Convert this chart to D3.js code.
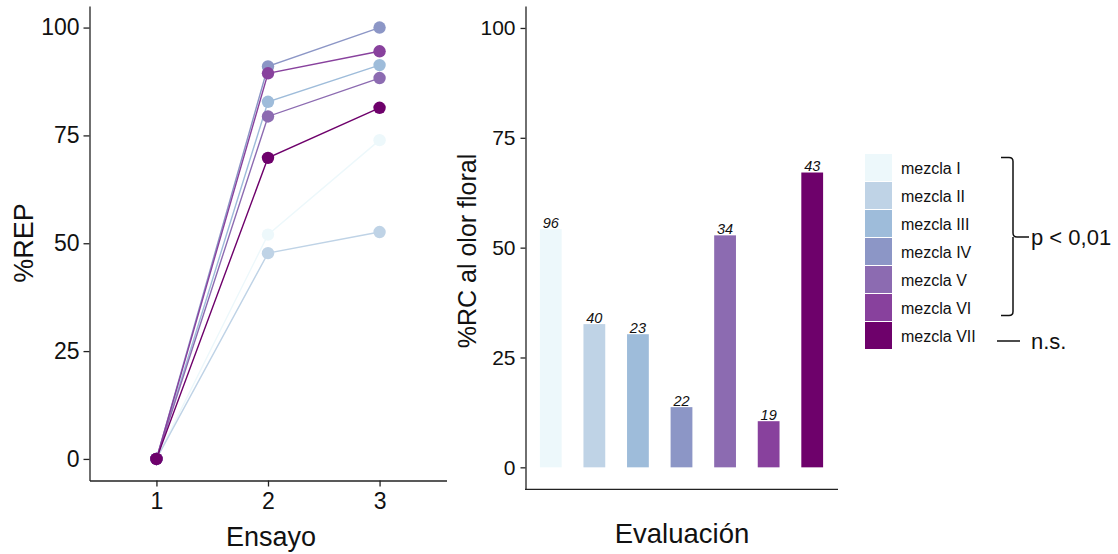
<!DOCTYPE html>
<html>
<head>
<meta charset="utf-8">
<script src="https://cdn.jsdelivr.net/npm/d3@7"></script>
<style>
  body { margin: 0; background: #fff; }
  svg { font-family: "Liberation Sans", Arial, sans-serif; }
  .axis path, .axis line { stroke: #222; stroke-width: 1.3; }
  .axis text { fill: #111; }
</style>
</head>
<body>
<div id="chart"></div>
<script>
// mixtures (shared by both panels)
var mezclas = ['mezcla I', 'mezcla II', 'mezcla III', 'mezcla IV', 'mezcla V', 'mezcla VI', 'mezcla VII'];
var colores = ['#edf8fb', '#bfd3e6', '#9ebcda', '#8c96c6', '#8c6bb1', '#88419d', '#6e016b'];

// left panel: %REP per trial (ensayo 1, 2, 3)
var ensayos = [1, 2, 3];
var rep = [
  [0, 52.0, 73.9],   // mezcla I
  [0, 47.7, 52.6],   // mezcla II
  [0, 82.8, 91.3],   // mezcla III
  [0, 91.0, 100],    // mezcla IV
  [0, 79.4, 88.3],   // mezcla V
  [0, 89.4, 94.5],   // mezcla VI
  [0, 69.8, 81.4]    // mezcla VII
];

// right panel: %RC to floral odour and labels above bars
var rc = [54.2, 32.6, 30.3, 13.7, 52.8, 10.5, 67.1];
var rcLabels = ['96', '40', '23', '22', '34', '19', '43'];

var yTicks = [0, 25, 50, 75, 100];

var svg = d3.select('#chart').append('svg')
        .attr('width', 1118)
        .attr('height', 554);

// ---------- left panel ----------
var x1 = d3.scaleLinear().domain([0.4, 3.6]).range([89.5, 446.5]);
var y1 = d3.scaleLinear().domain([-5, 105]).range([480.5, 6]);

svg.append('g')
        .attr('class', 'axis')
        .attr('transform', 'translate(0,480.5)')
        .call(d3.axisBottom(x1).tickValues(ensayos).tickFormat(d3.format('d')).tickSize(6).tickPadding(6).tickSizeOuter(0))
        .selectAll('text').attr('font-size', 23);

svg.append('g')
        .attr('class', 'axis')
        .attr('transform', 'translate(89.5,0)')
        .call(d3.axisLeft(y1).tickValues(yTicks).tickSize(6).tickPadding(4).tickSizeOuter(0))
        .selectAll('text').attr('font-size', 23);

var line = d3.line()
        .x(function (d, i) { return x1(ensayos[i]); })
        .y(function (d) { return y1(d); });

rep.forEach(function (serie, k) {
        svg.append('path')
                .datum(serie)
                .attr('fill', 'none')
                .attr('stroke', colores[k])
                .attr('stroke-width', 1.4)
                .attr('d', line);
});
rep.forEach(function (serie, k) {
        svg.append('g').selectAll('circle')
                .data(serie)
                .enter().append('circle')
                .attr('cx', function (d, i) { return x1(ensayos[i]); })
                .attr('cy', function (d) { return y1(d); })
                .attr('r', 6.2)
                .attr('fill', colores[k]);
});

svg.append('text')
        .attr('transform', 'translate(33,243) rotate(-90)')
        .attr('text-anchor', 'middle')
        .attr('font-size', 27)
        .attr('fill', '#111')
        .text('%REP');

svg.append('text')
        .attr('x', 271)
        .attr('y', 546)
        .attr('text-anchor', 'middle')
        .attr('font-size', 27)
        .attr('fill', '#111')
        .text('Ensayo');

// ---------- right panel ----------
var x2 = d3.scaleBand().domain(mezclas).range([529, 834]).paddingInner(0.5).paddingOuter(0.25);
var y2 = d3.scaleLinear().domain([-5, 105]).range([489.3, 6]);

svg.append('line')
        .attr('class', 'baseline')
        .attr('x1', 525).attr('x2', 838)
        .attr('y1', 489.3).attr('y2', 489.3)
        .attr('stroke', '#222')
        .attr('stroke-width', 1.3);

svg.append('g')
        .attr('class', 'axis')
        .attr('transform', 'translate(525.5,0)')
        .call(d3.axisLeft(y2).tickValues(yTicks).tickSize(5).tickPadding(5).tickSizeOuter(0))
        .selectAll('text').attr('font-size', 21);

svg.append('g').selectAll('rect')
        .data(rc)
        .enter().append('rect')
        .attr('x', function (d, i) { return x2(mezclas[i]); })
        .attr('y', function (d) { return y2(d); })
        .attr('width', x2.bandwidth())
        .attr('height', function (d) { return y2(0) - y2(d); })
        .attr('fill', function (d, i) { return colores[i]; });

svg.append('g').selectAll('text')
        .data(rc)
        .enter().append('text')
        .attr('x', function (d, i) { return x2(mezclas[i]) + x2.bandwidth() / 2; })
        .attr('y', function (d) { return y2(d) - 1.5; })
        .attr('text-anchor', 'middle')
        .attr('font-size', 14.5)
        .attr('font-style', 'italic')
        .attr('fill', '#111')
        .text(function (d, i) { return rcLabels[i]; });

svg.append('text')
        .attr('transform', 'translate(476,251) rotate(-90)')
        .attr('text-anchor', 'middle')
        .attr('font-size', 25)
        .attr('fill', '#111')
        .text('%RC al olor floral');

svg.append('text')
        .attr('x', 682)
        .attr('y', 543)
        .attr('text-anchor', 'middle')
        .attr('font-size', 27.5)
        .attr('fill', '#111')
        .text('Evaluación');

// ---------- legend ----------
var legend = svg.append('g').attr('transform', 'translate(865,154)');
var row = legend.selectAll('g')
        .data(mezclas)
        .enter().append('g')
        .attr('transform', function (d, i) { return 'translate(0,' + (i * 28) + ')'; });
row.append('rect')
        .attr('width', 27)
        .attr('height', 27)
        .attr('fill', function (d, i) { return colores[i]; });
row.append('text')
        .attr('x', 36)
        .attr('y', 14)
        .attr('dy', '0.35em')
        .attr('font-size', 16)
        .attr('fill', '#111')
        .text(function (d) { return d; });

// bracket for p < 0,01 and line for n.s.
svg.append('path')
        .attr('fill', 'none')
        .attr('stroke', '#111')
        .attr('stroke-width', 1.5)
        .attr('d', 'M1001,157.5 H1009 Q1013,157.5 1013,161.5 V233 Q1013,237 1017,237 H1029 M1013,237 Q1013,241 1013,245 V311.5 Q1013,315.5 1009,315.5 H1001');

svg.append('text')
        .attr('x', 1031)
        .attr('y', 237)
        .attr('dy', '0.35em')
        .attr('font-size', 22)
        .attr('fill', '#111')
        .text('p < 0,01');

svg.append('line')
        .attr('x1', 997).attr('x2', 1020)
        .attr('y1', 341).attr('y2', 341)
        .attr('stroke', '#111')
        .attr('stroke-width', 1.5);

svg.append('text')
        .attr('x', 1031)
        .attr('y', 341)
        .attr('dy', '0.35em')
        .attr('font-size', 22)
        .attr('fill', '#111')
        .text('n.s.');
</script>
</body>
</html>
